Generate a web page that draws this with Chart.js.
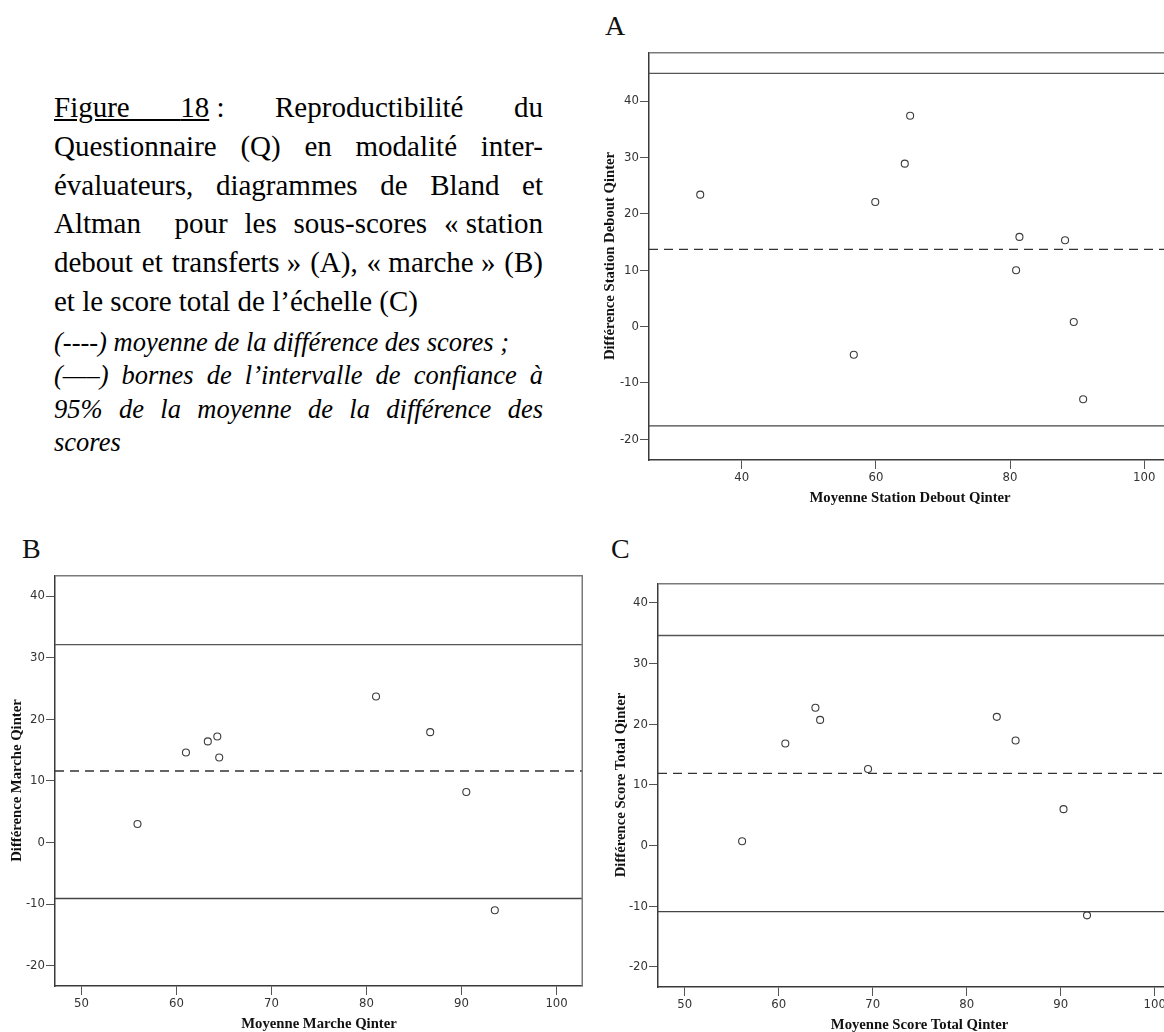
<!DOCTYPE html>
<html lang="fr">
<head>
<meta charset="utf-8">
<title>Figure 18 - Bland et Altman</title>
<script src="https://cdn.jsdelivr.net/npm/chart.js@4.4.1/dist/chart.umd.min.js"></script>
<style>
  html, body { margin: 0; padding: 0; background: #fff; overflow: hidden; }
  body { width: 1164px; height: 1032px; position: relative; }
  canvas { position: absolute; }
  .lettre { position: absolute; font-family: "Liberation Serif", "Times New Roman", serif; font-size: 28px; line-height: 28px; color: #111; }
  #legende { position: absolute; left: 54px; top: 88px; width: 489px; font-family: "Liberation Serif", "Times New Roman", serif; font-size: 29px; line-height: 38.8px; color: #000; }
  #notes { position: absolute; left: 54px; top: 326px; width: 489px; font-family: "Liberation Serif", "Times New Roman", serif; font-style: italic; font-size: 26.5px; line-height: 33.3px; color: #000; }
  .j { text-align: justify; text-align-last: justify; }
  .ib { display: inline-block; }
</style>
</head>
<body>

<div class="lettre" style="left:605px; top:12px;">A</div>
<div class="lettre" style="left:22px; top:535px;">B</div>
<div class="lettre" style="left:611px; top:535px;">C</div>

<div id="legende">
  <div class="j"><u>Figure </u><span class="ib"><u>18</u>&nbsp;:</span> Reproductibilité du</div>
  <div class="j">Questionnaire (Q) en modalité inter-</div>
  <div class="j">évaluateurs, diagrammes de Bland et</div>
  <div class="j">Altman&nbsp; pour les sous-scores <span class="ib">«&nbsp;station</span></div>
  <div class="j">debout et <span class="ib">transferts&nbsp;»</span> (A), <span class="ib">«&nbsp;marche&nbsp;»</span> (B)</div>
  <div>et le score total de l’échelle (C)</div>
</div>
<div id="notes">
  <div>(----) moyenne de la différence des scores ;</div>
  <div class="j">(—–) bornes de l’intervalle de confiance à</div>
  <div class="j">95% de la moyenne de la différence des</div>
  <div>scores</div>
</div>

<canvas id="grA" width="574" height="458" style="left:597px; top:52px;"></canvas>
<canvas id="grB" width="579" height="461" style="left:4px; top:575px;"></canvas>
<canvas id="grC" width="573" height="454" style="left:608px; top:583px;"></canvas>

<script>
// graduations
const ticksXA = [40, 60, 80, 100];
const ticksXBC = [50, 60, 70, 80, 90, 100];
const ticksY = [-20, -10, 0, 10, 20, 30, 40];

// A : station debout et transferts
const moyA = [33.8, 59.9, 64.3, 65.1, 56.7, 81.4, 80.9, 88.2, 89.5, 90.9];
const diffA = [23.4, 22.1, 28.9, 37.4, -5.0, 15.9, 10.0, 15.3, 0.8, -12.9];
const bornesA = [44.9, -17.6];
const moyenneA = 13.7;

// B : marche
const moyB = [55.9, 61.0, 63.3, 64.3, 64.5, 81.0, 86.7, 90.5, 93.5];
const diffB = [3.0, 14.6, 16.4, 17.2, 13.8, 23.7, 17.9, 8.2, -11.0];
const bornesB = [32.1, -9.1];
const moyenneB = 11.6;

// C : score total
const moyC = [56.1, 60.7, 63.9, 64.4, 69.5, 83.2, 85.2, 90.3, 92.8];
const diffC = [0.7, 16.8, 22.7, 20.7, 12.6, 21.2, 17.3, 6.0, -11.5];
const bornesC = [34.6, -10.9];
const moyenneC = 11.9;

const policeTicks = { family: "'Liberation Sans Narrow', 'DejaVu Sans Condensed', 'Liberation Sans', sans-serif", size: 13 };
const policeTitre = { family: "'Liberation Serif', 'Times New Roman', serif", size: 14.7, weight: 'bold' };

// cadre haut + droite du graphique
const cadre = {
  id: 'cadre',
  afterDraw(chart) {
    const { ctx, chartArea: a } = chart;
    ctx.save();
    ctx.strokeStyle = '#7a7a7a';
    ctx.lineWidth = 1.5;
    ctx.beginPath();
    ctx.moveTo(a.left, a.top + 0.75);
    ctx.lineTo(a.right - 0.75, a.top + 0.75);
    ctx.lineTo(a.right - 0.75, a.bottom);
    ctx.stroke();
    ctx.restore();
  }
};

function trace(id, p) {
  const points = p.moy.map((x, i) => ({ x: x, y: p.diff[i] }));
  const ligne = (y, dash, couleur) => ({
    data: [{ x: p.xMin, y: y }, { x: p.xMax, y: y }],
    showLine: true,
    pointRadius: 0,
    borderColor: couleur,
    borderWidth: 1.3,
    borderDash: dash
  });

  return new Chart(document.getElementById(id), {
    type: 'scatter',
    data: {
      datasets: [
        ligne(p.bornes[0], [], '#555'),
        ligne(p.moyenne, [9, 6], '#333'),
        ligne(p.bornes[1], [], '#444'),
        {
          data: points,
          pointRadius: 3.5,
          pointBorderWidth: 1.1,
          borderColor: '#3c3c3c',
          backgroundColor: 'rgba(255,255,255,0)'
        }
      ]
    },
    options: {
      responsive: false,
      animation: false,
      devicePixelRatio: 1,
      layout: { padding: 0, autoPadding: false },
      plugins: {
        legend: { display: false },
        tooltip: { enabled: false }
      },
      scales: {
        x: {
          type: 'linear',
          min: p.xMin,
          max: p.xMax,
          afterBuildTicks: s => { s.ticks = p.ticksX.map(v => ({ value: v })); },
          afterFit: s => { s.height = 50; s.paddingLeft = 0; s.paddingRight = 0; },
          grid: { drawOnChartArea: false, tickLength: 9, color: '#555' },
          border: { color: '#3a3a3a', width: 1.5 },
          ticks: { padding: 1, color: '#333', font: policeTicks, maxRotation: 0, autoSkip: false },
          title: { display: true, text: p.titreX, font: policeTitre, color: '#111', padding: { top: 0, bottom: 3 } }
        },
        y: {
          type: 'linear',
          min: p.yMin,
          max: p.yMax,
          afterBuildTicks: s => { s.ticks = ticksY.map(v => ({ value: v })); },
          // largeur fixe, sans la marge ajoutée pour les étiquettes extrêmes
          afterFit: s => { s.width = p.largeurY; s.paddingTop = 0; s.paddingBottom = 0; },
          grid: { drawOnChartArea: false, tickLength: 9, color: '#555' },
          border: { color: '#3a3a3a', width: 1.5 },
          ticks: { padding: 1, color: '#333', font: policeTicks, autoSkip: false },
          title: { display: true, text: p.titreY, font: policeTitre, color: '#111', padding: { top: 4, bottom: 0 } }
        }
      }
    },
    plugins: [cadre]
  });
}

trace('grA', {
  moy: moyA, diff: diffA, bornes: bornesA, moyenne: moyenneA,
  xMin: 26.16, xMax: 104.0, yMin: -23.67, yMax: 48.7,
  ticksX: ticksXA, largeurY: 52,
  titreX: 'Moyenne Station Debout Qinter',
  titreY: 'Différence Station Debout Qinter'
});

trace('grB', {
  moy: moyB, diff: diffB, bornes: bornesB, moyenne: moyenneB,
  xMin: 47.22, xMax: 102.78, yMin: -23.3, yMax: 43.41,
  ticksX: ticksXBC, largeurY: 51,
  titreX: 'Moyenne Marche Qinter',
  titreY: 'Différence Marche Qinter'
});

trace('grC', {
  moy: moyC, diff: diffC, bornes: bornesC, moyenne: moyenneC,
  xMin: 47.15, xMax: 102.8, yMin: -23.3, yMax: 43.25,
  ticksX: ticksXBC, largeurY: 50,
  titreX: 'Moyenne Score Total Qinter',
  titreY: 'Différence Score Total Qinter'
});
</script>
</body>
</html>
